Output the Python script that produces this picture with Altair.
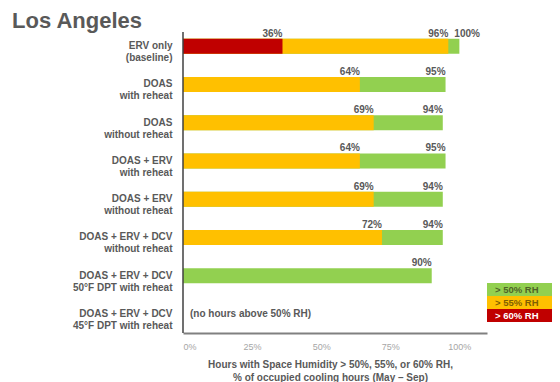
import altair as alt
import pandas as pd

systems = [
    "ERV only\n(baseline)",
    "DOAS\nwith reheat",
    "DOAS\nwithout reheat",
    "DOAS + ERV\nwith reheat",
    "DOAS + ERV\nwithout reheat",
    "DOAS + ERV + DCV\nwithout reheat",
    "DOAS + ERV + DCV\n50°F DPT with reheat",
    "DOAS + ERV + DCV\n45°F DPT with reheat",
]
rh50 = [100, 95, 94, 95, 94, 94, 90, 0]
rh55 = [96, 64, 69, 64, 69, 72, 0, 0]
rh60 = [36, 0, 0, 0, 0, 0, 0, 0]
series = ["> 50% RH", "> 55% RH", "> 60% RH"]
colors = ["#92D050", "#FFC000", "#C00000"]
legend_text_colors = ["#4F6228", "#7F6000", "#FFFFFF"]
x_ticks = [0, 25, 50, 75, 100]
title_text = "Los Angeles"
note_text = "(no hours above 50% RH)"
x_title = ["Hours with Space Humidity > 50%, 55%, or 60% RH,",
           "% of occupied cooling hours (May \u2013 Sep)"]

FONT = "Liberation Sans"
GRAY = "#595959"

rows = []
for k, (name, vals) in enumerate(zip(series, [rh50, rh55, rh60])):
    for s, v in zip(systems, vals):
        if v > 0:
            rows.append({"system": s, "series": name, "value": v, "ord": k,
                         "label": f"{v}%"})
df = pd.DataFrame(rows)

y_enc = alt.Y("system:N",
              scale=alt.Scale(domain=systems, paddingInner=0, paddingOuter=0),
              axis=alt.Axis(title=None, domain=False, ticks=False,
                            labelExpr="split(datum.label, '\\n')",
                            labelFont=FONT, labelFontSize=10,
                            labelFontWeight="bold", labelColor=GRAY,
                            labelLineHeight=12, labelPadding=11,
                            labelBaseline="middle"))

x_enc = alt.X("value:Q",
              scale=alt.Scale(domain=[0, 110], nice=False),
              axis=alt.Axis(values=x_ticks, labelExpr="datum.value + '%'",
                            grid=False, ticks=False, domainColor="#808080",
                            domainWidth=2, labelColor="#A6A6A6",
                            labelFont=FONT, labelFontSize=9, labelPadding=9,
                            title=x_title, titleFont=FONT, titleFontSize=10,
                            titleFontWeight="bold", titleColor=GRAY,
                            titleX=147, titleY=34, titleAlign="center",
                            titleBaseline="alphabetic", titleLineHeight=13))

bars = alt.Chart(df).mark_bar(size=15).encode(
    x=x_enc.stack(None),
    y=y_enc,
    color=alt.Color("series:N", scale=alt.Scale(domain=series, range=colors),
                    legend=None),
    order=alt.Order("ord:Q"),
)

labels_r = alt.Chart(df).transform_filter("datum.value < 100").mark_text(
    align="right", baseline="alphabetic", dy=-9.5, font=FONT, fontSize=10,
    fontWeight="bold", color=GRAY
).encode(x="value:Q", y="system:N", text="label:N")

labels_l = alt.Chart(df).transform_filter("datum.value >= 100").mark_text(
    align="left", baseline="alphabetic", dy=-9.5, dx=-5, font=FONT,
    fontSize=10, fontWeight="bold", color=GRAY
).encode(x="value:Q", y="system:N", text="label:N")

note = alt.Chart(pd.DataFrame({"system": [systems[-1]], "t": [note_text]})).mark_text(
    align="left", baseline="middle", font=FONT, fontSize=10,
    fontWeight="bold", color=GRAY
).encode(x=alt.value(7), y="system:N", text="t:N")

yrule = alt.Chart(pd.DataFrame({"a": [0]})).mark_rule(
    color="#404040", strokeWidth=1.5
).encode(x=alt.value(0), y=alt.value(5), y2=alt.value(306))

title = alt.Chart(pd.DataFrame({"t": [title_text]})).mark_text(
    align="left", baseline="alphabetic", font=FONT, fontSize=22,
    fontWeight="bold", color=GRAY
).encode(x=alt.value(-171), y=alt.value(1), text="t:N")

legend_layers = []
for i, (name, c, tc) in enumerate(zip(series, colors, legend_text_colors)):
    ld = pd.DataFrame({"t": [name]})
    legend_layers.append(
        alt.Chart(ld).mark_rect(color=c).encode(
            x=alt.value(304), x2=alt.value(380),
            y=alt.value(256 + 13 * i), y2=alt.value(269 + 13 * i)))
    legend_layers.append(
        alt.Chart(ld).mark_text(align="left", baseline="middle", font=FONT,
                                fontSize=9.5, fontWeight="bold", color=tc).encode(
            x=alt.value(312), y=alt.value(262.5 + 13 * i), text="t:N"))

chart = alt.layer(bars, labels_r, labels_l, note, yrule, title,
                  *legend_layers).properties(
    width=304, height=306,
    autosize=alt.AutoSizeParams(type="none"),
    padding={"left": 175, "top": 19, "right": 65, "bottom": 49},
).configure_view(stroke=None)

chart.save("out.html", embed_options={"renderer": "svg", "actions": False})
